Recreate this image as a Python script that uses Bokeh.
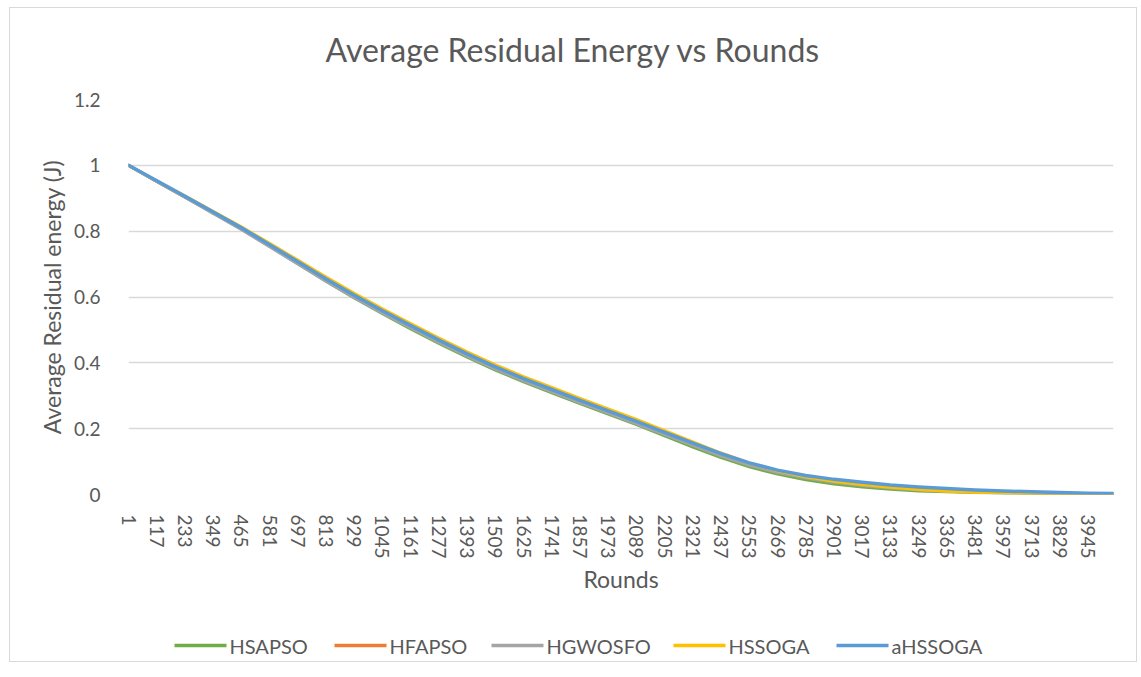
from bokeh.plotting import figure
from bokeh.layouts import column
from bokeh.models import FixedTicker, Range1d, PrintfTickFormatter, InlineStyleSheet
from bokeh.core.properties import value
from bokeh.embed import file_html
from bokeh.resources import INLINE

# --- data -------------------------------------------------------------
rounds = [1, 117, 233, 349, 465, 581, 697, 813, 929, 1045, 1161, 1277,
          1393, 1509, 1625, 1741, 1857, 1973, 2089, 2205, 2321, 2437,
          2553, 2669, 2785, 2901, 3017, 3133, 3249, 3365, 3481, 3597,
          3713, 3829, 3945, 4050]

hsapso = [1.000, 0.951, 0.903, 0.855, 0.806, 0.754, 0.701, 0.648, 0.597,
          0.549, 0.503, 0.459, 0.417, 0.378, 0.342, 0.309, 0.276, 0.244,
          0.212, 0.178, 0.144, 0.112, 0.084, 0.062, 0.045, 0.032, 0.023,
          0.016, 0.011, 0.008, 0.006, 0.004, 0.003, 0.002, 0.002, 0.001]
hfapso = [1.000, 0.952, 0.904, 0.856, 0.808, 0.756, 0.703, 0.651, 0.601,
          0.554, 0.509, 0.465, 0.423, 0.384, 0.348, 0.315, 0.282, 0.250,
          0.218, 0.185, 0.152, 0.120, 0.092, 0.070, 0.053, 0.040, 0.030,
          0.022, 0.016, 0.012, 0.009, 0.006, 0.005, 0.003, 0.002, 0.002]
hgwosfo = [1.000, 0.951, 0.903, 0.854, 0.805, 0.753, 0.700, 0.648, 0.598,
           0.551, 0.506, 0.462, 0.420, 0.381, 0.345, 0.312, 0.279, 0.247,
           0.215, 0.182, 0.149, 0.117, 0.089, 0.067, 0.050, 0.037, 0.027,
           0.020, 0.014, 0.010, 0.007, 0.005, 0.004, 0.003, 0.002, 0.002]
hssoga = [1.000, 0.953, 0.907, 0.860, 0.813, 0.763, 0.712, 0.661, 0.611,
          0.564, 0.519, 0.475, 0.433, 0.394, 0.358, 0.325, 0.292, 0.260,
          0.228, 0.194, 0.160, 0.126, 0.096, 0.072, 0.054, 0.040, 0.030,
          0.022, 0.015, 0.010, 0.007, 0.005, 0.004, 0.003, 0.002, 0.002]
ahssoga = [1.000, 0.953, 0.906, 0.858, 0.810, 0.759, 0.707, 0.655, 0.605,
           0.558, 0.513, 0.469, 0.427, 0.388, 0.352, 0.319, 0.286, 0.254,
           0.222, 0.189, 0.156, 0.124, 0.096, 0.074, 0.058, 0.046, 0.037,
           0.029, 0.023, 0.018, 0.014, 0.011, 0.008, 0.006, 0.004, 0.003]

x_ticks = [1, 117, 233, 349, 465, 581, 697, 813, 929, 1045, 1161, 1277,
           1393, 1509, 1625, 1741, 1857, 1973, 2089, 2205, 2321, 2437,
           2553, 2669, 2785, 2901, 3017, 3133, 3249, 3365, 3481, 3597,
           3713, 3829, 3945]
y_ticks = [0, 0.2, 0.4, 0.6, 0.8, 1, 1.2]

names = ["HSAPSO", "HFAPSO", "HGWOSFO", "HSSOGA", "aHSSOGA"]
values = [hsapso, hfapso, hgwosfo, hssoga, ahssoga]
colors = ["#70AD47", "#ED7D31", "#A5A5A5", "#FFC000", "#5B9BD5"]
widths = [3, 3, 3, 3, 3.5]

FONT = "Lato"
TEXT = "#595959"
FRAME_LEFT, FRAME_RIGHT = 128, 1113

# --- main chart -------------------------------------------------------
p = figure(width=1141, height=620, output_backend="svg", toolbar_location=None,
           x_range=Range1d(1, 4050), y_range=Range1d(0, 1.2),
           min_border_left=FRAME_LEFT, min_border_right=1141 - FRAME_RIGHT,
           min_border_top=0, min_border_bottom=126)
p.outline_line_color = None
p.background_fill_color = "white"
p.border_fill_color = None

# title: left-aligned with an offset so it sits centred over the whole chart
p.title.text = "Average Residual Energy vs Rounds"
p.title.align = "left"
p.title.offset = 197
p.title.vertical_align = "top"
p.title.standoff = 58
p.title.text_font = FONT
p.title.text_font_size = "32px"
p.title.text_font_style = "normal"
p.title.text_color = TEXT

p.xaxis.ticker = FixedTicker(ticks=x_ticks)
p.xaxis.major_label_orientation = "vertical"
p.xaxis.axis_line_color = None
p.xaxis.major_tick_line_color = None
p.xaxis.minor_tick_line_color = None
p.xaxis.major_label_standoff = 14
p.xaxis.major_label_text_font = FONT
p.xaxis.major_label_text_font_size = "19px"
p.xaxis.major_label_text_color = TEXT
p.xaxis.axis_label = "Rounds"
p.xaxis.axis_label_text_font = FONT
p.xaxis.axis_label_text_font_size = "23px"
p.xaxis.axis_label_text_font_style = "normal"
p.xaxis.axis_label_text_color = TEXT
p.xaxis.axis_label_standoff = 3

p.yaxis.ticker = FixedTicker(ticks=y_ticks)
p.yaxis.formatter = PrintfTickFormatter(format="%g")
p.yaxis.axis_line_color = None
p.yaxis.major_tick_line_color = None
p.yaxis.minor_tick_line_color = None
p.yaxis.major_label_standoff = 22
p.yaxis.major_label_text_font = FONT
p.yaxis.major_label_text_font_size = "19px"
p.yaxis.major_label_text_color = TEXT
p.yaxis.axis_label = "Average Residual energy (J)"
p.yaxis.axis_label_text_font = FONT
p.yaxis.axis_label_text_font_size = "23px"
p.yaxis.axis_label_text_font_style = "normal"
p.yaxis.axis_label_text_color = TEXT
p.yaxis.axis_label_standoff = 5

p.xgrid.grid_line_color = None
p.ygrid.grid_line_color = "#D9D9D9"
p.ygrid.grid_line_width = 1.5

for vals, color, lw in zip(values, colors, widths):
    p.line(rounds, vals, line_color=color, line_width=lw,
           line_join="round", line_cap="round")

# --- legend strip under the chart --------------------------------------
# its frame lines up with the chart frame, so x is given in page pixels
LEG_H = 57
swatch_left = [174, 334, 491, 673, 836]
swatch_len = 52
row_y = 25

leg = figure(width=1141, height=LEG_H, output_backend="svg",
             toolbar_location=None, x_range=Range1d(FRAME_LEFT, FRAME_RIGHT),
             y_range=Range1d(LEG_H, 0), x_axis_type=None, y_axis_type=None,
             min_border_left=FRAME_LEFT, min_border_right=1141 - FRAME_RIGHT,
             min_border_top=0, min_border_bottom=0)
leg.outline_line_color = None
leg.grid.grid_line_color = None
leg.background_fill_color = None
leg.border_fill_color = None

leg.segment(x0=swatch_left, y0=[row_y] * 5,
            x1=[x + swatch_len for x in swatch_left], y1=[row_y] * 5,
            line_color=colors, line_width=3.5)
leg.text(x=[x + swatch_len + 3 for x in swatch_left], y=[row_y] * 5,
         text=names, text_font=value(FONT), text_font_size=value("20px"),
         text_color=TEXT, text_baseline="middle", text_align="left")

# thin grey frame around the whole chart area
frame_css = InlineStyleSheet(css="""
:host { position: relative; background: white; }
:host::after {
  content: ""; position: absolute; left: 9px; top: 7px;
  width: 1128px; height: 655px; box-sizing: border-box;
  border: 1px solid #D9D9D9; pointer-events: none;
}
""")

layout = column(p, leg, spacing=0, stylesheets=[frame_css])
open("out.html", "w").write(file_html(layout, INLINE))
